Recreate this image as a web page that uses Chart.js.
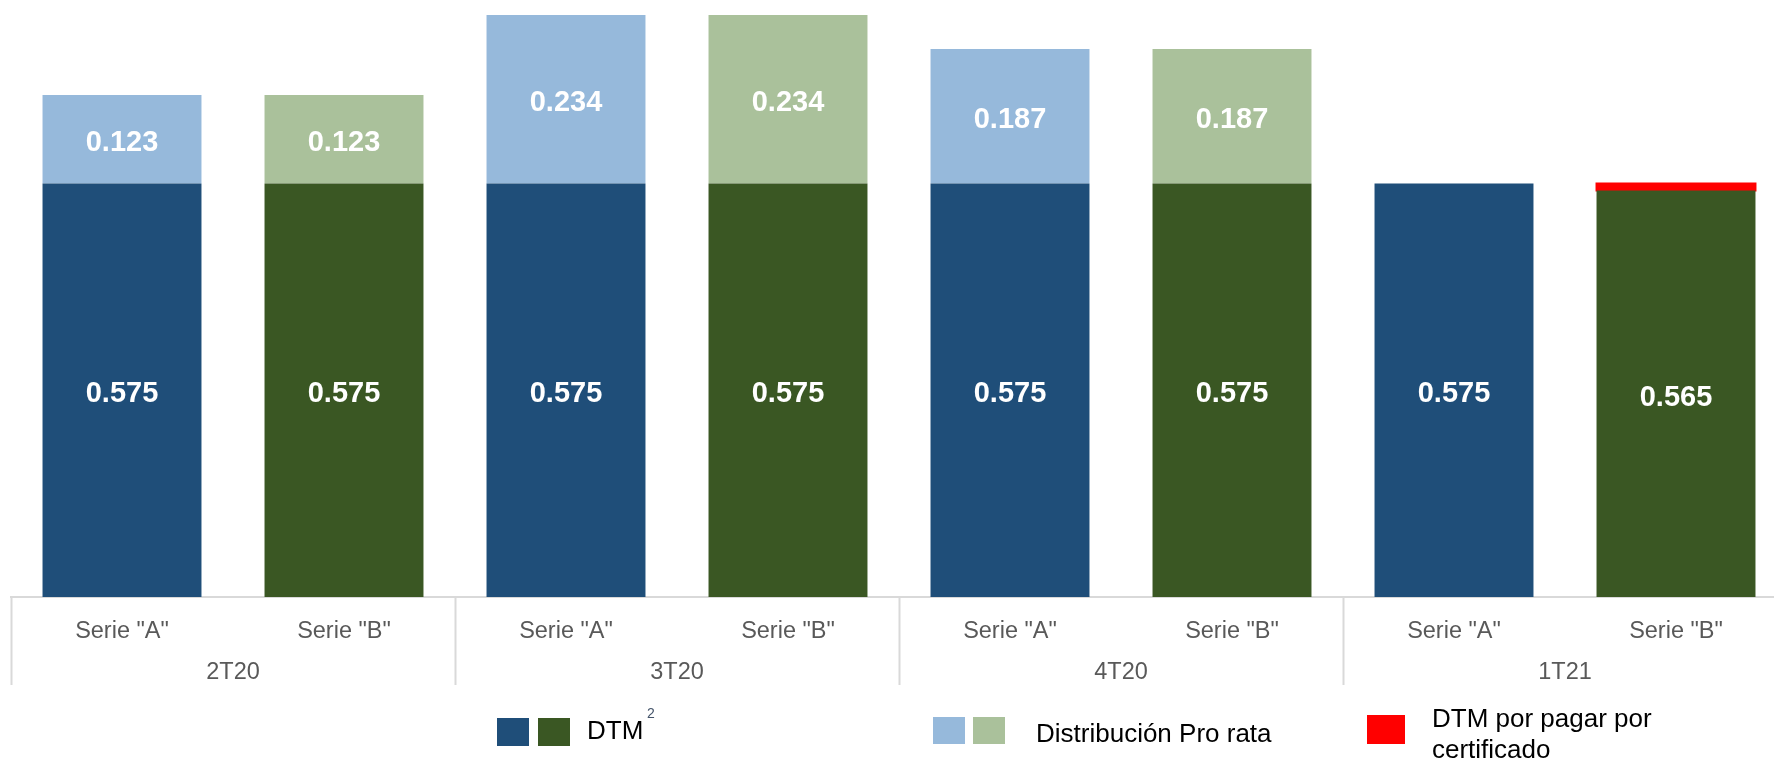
<!DOCTYPE html>
<html>
<head>
<meta charset="utf-8">
<script src="https://cdn.jsdelivr.net/npm/chart.js@4/dist/chart.umd.min.js"></script>
<style>
  body { margin: 0; overflow: hidden; background: #fff; font-family: "Liberation Sans", Arial, sans-serif; }
  #wrap { position: relative; width: 1774px; height: 764px; overflow: hidden; }
  #chart { position: absolute; left: 0; top: 0; }
  .sw { position: absolute; }
  .lt { position: absolute; font-size: 26px; color: #000; white-space: nowrap; }
</style>
</head>
<body>
<div id="wrap">
  <canvas id="chart" width="1790" height="764"></canvas>

  <div class="sw" style="left:497px;top:718px;width:32px;height:28px;background:#1F4E79"></div>
  <div class="sw" style="left:538px;top:718px;width:32px;height:28px;background:#3A5723"></div>
  <div class="lt" style="left:587px;top:715px;line-height:30px">DTM</div>
  <div class="lt" style="left:647px;top:705px;font-size:14px;line-height:16px;color:#44546A">2</div>

  <div class="sw" style="left:933px;top:717px;width:32px;height:27px;background:#96B9DB"></div>
  <div class="sw" style="left:973px;top:717px;width:32px;height:27px;background:#AAC19B"></div>
  <div class="lt" style="left:1036px;top:718px;line-height:30px">Distribución Pro rata</div>

  <div class="sw" style="left:1367px;top:715px;width:38px;height:29px;background:#FF0000"></div>
  <div class="lt" style="left:1432px;top:703px;line-height:31px">DTM por pagar por<br>certificado</div>
</div>

<script>
const periods = ["2T20", "3T20", "4T20", "1T21"];
const series = ['Serie "A"', 'Serie "B"'];
const dtmA = [0.575, 0.575, 0.575, 0.575];
const dtmB = [0.575, 0.575, 0.575, 0.565];
const prorataA = [0.123, 0.234, 0.187, null];
const prorataB = [0.123, 0.234, 0.187, null];
const porPagarB = [null, null, null, 0.010];

const darkColors = ["#1F4E79", "#3A5723"];
const lightColors = ["#96B9DB", "#AAC19B"];

// two bars (Serie A, Serie B) per period
const labels = [];
const dtmData = [];
const prorataData = [];
const porPagarData = [];
const darkBg = [];
const lightBg = [];
periods.forEach(function (p, i) {
  labels.push(series[0], series[1]);
  dtmData.push(dtmA[i], dtmB[i]);
  prorataData.push(prorataA[i], prorataB[i]);
  porPagarData.push(null, porPagarB[i]);
  darkBg.push(darkColors[0], darkColors[1]);
  lightBg.push(lightColors[0], lightColors[1]);
});

const FONT = '"Liberation Sans", Arial, sans-serif';
const GRAY = "#d9d9d9";

const valueLabels = {
  id: "valueLabels",
  afterDatasetsDraw(chart) {
    const ctx = chart.ctx;
    ctx.save();
    ctx.fillStyle = "#fff";
    ctx.font = "bold 29px " + FONT;
    ctx.textAlign = "center";
    ctx.textBaseline = "middle";
    [0, 1].forEach(function (di) {
      const meta = chart.getDatasetMeta(di);
      meta.data.forEach(function (bar, i) {
        const v = chart.data.datasets[di].data[i];
        if (v === null || v === undefined) return;
        ctx.fillText(v.toFixed(3), bar.x, (bar.y + bar.base) / 2 + 4);
      });
    });
    ctx.restore();
  },
};

new Chart(document.getElementById("chart").getContext("2d"), {
  type: "bar",
  data: {
    labels: labels,
    datasets: [
      { label: "DTM", data: dtmData, backgroundColor: darkBg },
      { label: "Distribución Pro rata", data: prorataData, backgroundColor: lightBg },
      { label: "DTM por pagar por certificado", data: porPagarData, backgroundColor: "#FF0000", inflateAmount: 1 },
    ],
  },
  options: {
    responsive: false,
    animation: false,
    barPercentage: 0.716,
    categoryPercentage: 1,
    layout: { padding: { left: 11, right: 3, top: 0, bottom: 79 } },
    plugins: { legend: { display: false }, tooltip: { enabled: false } },
    scales: {
      y: { stacked: true, display: false, min: 0, max: 0.83 },
      x: {
        stacked: true,
        weight: 0,
        grid: {
          offset: true,
          drawOnChartArea: false,
          tickLength: 44,
          tickWidth: 2,
          tickColor: function (c) { return c.index % 2 === 0 ? GRAY : "rgba(0,0,0,0)"; },
        },
        border: { display: true, color: GRAY, width: 2 },
        ticks: {
          autoSkip: false,
          maxRotation: 0,
          padding: -24,
          color: "#595959",
          font: { family: FONT, size: 23.5 },
        },
        afterFit: function (scale) { scale.height = 44; },
      },
      x2: {
        type: "category",
        position: "bottom",
        labels: periods,
        offset: true,
        weight: 1,
        grid: {
          offset: true,
          drawOnChartArea: false,
          tickLength: 44,
          tickWidth: 2,
          tickColor: GRAY,
        },
        border: { display: false },
        ticks: {
          autoSkip: false,
          maxRotation: 0,
          padding: -27,
          color: "#595959",
          font: { family: FONT, size: 23.5 },
        },
        afterFit: function (scale) { scale.height = 44; },
      },
    },
  },
  plugins: [valueLabels],
});
</script>
</body>
</html>
